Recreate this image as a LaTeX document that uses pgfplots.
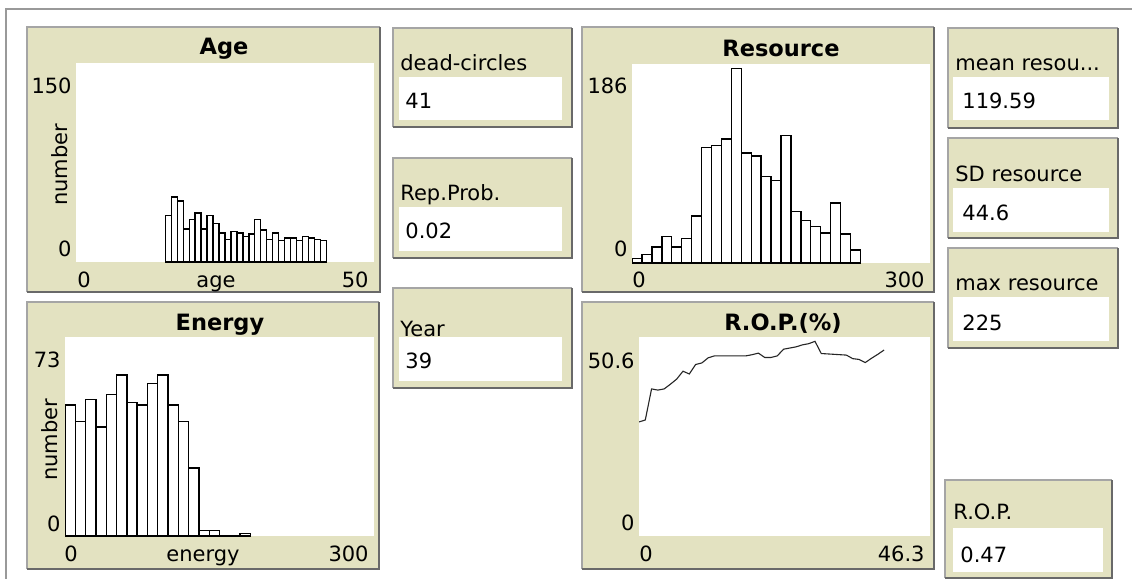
\documentclass[border=0pt]{standalone}
\usepackage{pgfplots}
\pgfplotsset{compat=1.18}
\usepackage{fontspec}
\setmainfont{DejaVu Sans}
\definecolor{nlbg}{RGB}{227,226,193}
\definecolor{nlbd}{RGB}{165,165,165}
\definecolor{nldk}{RGB}{105,105,105}
\newcommand{\tx}{\fontsize{10.5}{12}\selectfont}
\newcommand{\ti}{\fontsize{11.25}{13}\selectfont\bfseries}
\newcommand{\panel}[4]{%
  \fill[nlbg] (#1,#2) rectangle (#3,#4);
  \draw[nlbd,line width=1pt] (#1,#4) -- (#1,#2) -- (#3,#2);
  \draw[nldk,line width=1pt] (#3,#2) -- (#3,#4) -- (#1,#4);}
\newcommand{\whitebox}[4]{\fill[white] (#1,#2) rectangle (#3,#4);}
\pgfplotsset{nl/.style={scale only axis, hide axis, height=99.5pt}}
\begin{document}
\begin{tikzpicture}[x=0.5pt,y=-0.5pt]
\path[use as bounding box, fill=white] (0,0) rectangle (1132,579);
\draw[gray!80,line width=0.8pt] (6,579) -- (6,9) -- (1132,9);
% ---------- plot panels
\panel{27}{27}{380}{292}
\whitebox{76}{63}{374}{262}
\panel{582}{27}{934}{292}
\whitebox{632}{64}{930}{263}
\panel{27}{302}{379}{569}
\whitebox{65}{337}{374}{536}
\panel{582}{302}{934}{569}
\whitebox{639}{337}{930}{536}
% ---------- Age
\begin{axis}[nl, at={(38pt,-131pt)}, anchor=south west, width=149pt,
  xmin=0, xmax=50, ymin=0, ymax=150]
\addplot[ybar interval, fill=white, draw=black, line width=0.7pt] coordinates {
(15,35) (16,49) (17,46) (18,25) (19,32) (20,37) (21,25) (22,35) (23,29) (24,22)
(25,17) (26,23) (27,22) (28,19) (29,21) (30,32) (31,24) (32,17) (33,22) (34,16)
(35,18) (36,18) (37,16) (38,19) (39,18) (40,17) (41,16) (42,16)};
\end{axis}
\node[anchor=base] at (224,54) {\ti Age};
\node[anchor=base east, inner sep=0] at (72,93) {\tx 150};
\node[anchor=base east, inner sep=0] at (72,256) {\tx 0};
\node[anchor=base west, inner sep=0] at (77,287) {\tx 0};
\node[anchor=base east, inner sep=0] at (369,287) {\tx 50};
\node[anchor=base, inner sep=0] at (216,287) {\tx age};
\node[rotate=90, anchor=base, inner sep=0] at (68,165) {\tx number};
% ---------- Resource
\begin{axis}[nl, at={(316pt,-131.5pt)}, anchor=south west, width=149pt,
  xmin=0, xmax=300, ymin=0, ymax=186]
\addplot[ybar interval, fill=white, draw=black, line width=0.7pt] coordinates {
(0,4) (10,8) (20,15) (30,25) (40,15) (50,23) (60,44) (70,108) (80,110) (90,116)
(100,182) (110,103) (120,100) (130,81) (140,77) (150,119) (160,48) (170,40)
(180,34) (190,28) (200,56) (210,27) (220,12) (230,12)};
\end{axis}
\node[anchor=base] at (781,56) {\ti Resource};
\node[anchor=base east, inner sep=0] at (628,93) {\tx 186};
\node[anchor=base east, inner sep=0] at (628,256) {\tx 0};
\node[anchor=base west, inner sep=0] at (632,287) {\tx 0};
\node[anchor=base east, inner sep=0] at (925,287) {\tx 300};
% ---------- Energy
\begin{axis}[nl, at={(32.5pt,-268pt)}, anchor=south west, width=154.5pt,
  xmin=0, xmax=300, ymin=0, ymax=73]
\addplot[ybar interval, fill=white, draw=black, line width=0.7pt] coordinates {
(0,48) (10,42) (20,50) (30,40) (40,52) (50,59) (60,49) (70,48) (80,56) (90,59)
(100,48) (110,42) (120,25) (130,2) (140,2) (150,0) (160,0) (170,1) (180,1)};
\end{axis}
\node[anchor=base] at (220,330) {\ti Energy};
\node[anchor=base east, inner sep=0] at (61,367) {\tx 73};
\node[anchor=base east, inner sep=0] at (61,531) {\tx 0};
\node[anchor=base west, inner sep=0] at (64,561) {\tx 0};
\node[anchor=base east, inner sep=0] at (369,561) {\tx 300};
\node[anchor=base, inner sep=0] at (203,561) {\tx energy};
\node[rotate=90, anchor=base, inner sep=0] at (57,440) {\tx number};
% ---------- R.O.P.(%)
\begin{axis}[nl, at={(319.5pt,-268pt)}, anchor=south west, width=145.5pt,
  xmin=0, xmax=46.3, ymin=0, ymax=50.6]
\addplot[black!85, line width=0.55pt] coordinates {
(0,29.0) (1,29.5) (2,37.4) (3,37.1) (4,37.4) (5,38.6) (6,39.9) (7,41.9) (8,41.2)
(9,43.6) (10,44.0) (11,45.3) (12,45.8) (13,45.8) (14,45.8) (15,45.8) (16,45.8)
(17,45.8) (18,46.1) (19,46.5) (20,45.4) (21,45.4) (22,45.8) (23,47.5) (24,47.8)
(25,48.1) (26,48.6) (27,48.9) (28,49.5) (29,46.4) (30,46.3) (31,46.2) (32,46.1)
(33,46.0) (34,45.1) (35,44.9) (36,44.1) (37,45.2) (38,46.2) (39,47.3)};
\end{axis}
\node[anchor=base] at (783,330) {\ti R.O.P.(\%)};
\node[anchor=base east, inner sep=0] at (635,368) {\tx 50.6};
\node[anchor=base east, inner sep=0] at (635,530) {\tx 0};
\node[anchor=base west, inner sep=0] at (639,561) {\tx 0};
\node[anchor=base east, inner sep=0] at (925,561) {\tx 46.3};
% ---------- monitors (middle column)
\panel{393}{28}{572}{127}
\whitebox{399}{77}{562}{120}
\node[anchor=base west, inner sep=0] at (400,70) {\tx dead-circles};
\node[anchor=base west, inner sep=0] at (405,108) {\tx 41};
\panel{393}{158}{572}{258}
\whitebox{399}{207}{562}{251}
\node[anchor=base west, inner sep=0] at (400,200) {\tx Rep.Prob.};
\node[anchor=base west, inner sep=0] at (405,238) {\tx 0.02};
\panel{393}{288}{572}{388}
\whitebox{399}{337}{562}{381}
\node[anchor=base west, inner sep=0] at (400,336) {\tx Year};
\node[anchor=base west, inner sep=0] at (405,368) {\tx 39};
% ---------- monitors (right column)
\panel{948}{28}{1118}{128}
\whitebox{953}{77}{1109}{120}
\node[anchor=base west, inner sep=0] at (955,70) {\tx mean resou...};
\node[anchor=base west, inner sep=0] at (962,108) {\tx 119.59};
\panel{948}{138}{1118}{238}
\whitebox{953}{188}{1109}{232}
\node[anchor=base west, inner sep=0] at (955,181) {\tx SD resource};
\node[anchor=base west, inner sep=0] at (962,220) {\tx 44.6};
\panel{948}{248}{1118}{348}
\whitebox{953}{297}{1109}{341}
\node[anchor=base west, inner sep=0] at (955,290) {\tx max resource};
\node[anchor=base west, inner sep=0] at (962,330) {\tx 225};
\panel{945}{480}{1112}{578}
\whitebox{953}{528}{1103}{572}
\node[anchor=base west, inner sep=0] at (953,519) {\tx R.O.P.};
\node[anchor=base west, inner sep=0] at (960,562) {\tx 0.47};
\end{tikzpicture}
\end{document}
